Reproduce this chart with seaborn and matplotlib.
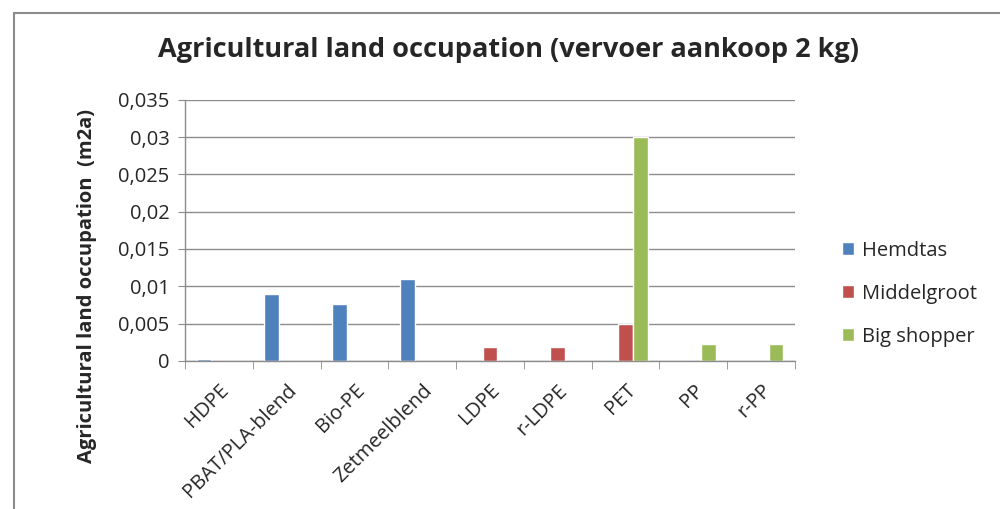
import pandas as pd
import matplotlib.pyplot as plt
import seaborn as sns
from matplotlib.patches import Rectangle
from matplotlib.ticker import FuncFormatter, FixedLocator

categories = ['HDPE', 'PBAT/PLA-blend', 'Bio-PE', 'Zetmeelblend', 'LDPE',
              'r-LDPE', 'PET', 'PP', 'r-PP']
series = ['Hemdtas', 'Middelgroot', 'Big shopper']
hemdtas = [0.0003, 0.0089, 0.0076, 0.011, None, None, None, None, None]
middelgroot = [None, None, None, None, 0.0019, 0.0019, 0.005, None, None]
big_shopper = [None, None, None, None, None, None, 0.030, 0.0023, 0.0023]
colors = ['#4F81BD', '#C0504D', '#9BBB59']

rows = []
for name, vals in zip(series, [hemdtas, middelgroot, big_shopper]):
    for cat, v in zip(categories, vals):
        rows.append({'cat': cat, 'serie': name, 'val': v})
df = pd.DataFrame(rows)

sns.set_style("white")
plt.rcParams['font.family'] = ['Open Sans', 'DejaVu Sans']

fig = plt.figure(figsize=(10, 5.09), dpi=100)
ax = fig.add_axes([0.185, 0.291, 0.61, 0.513])

sns.barplot(data=df, x='cat', y='val', hue='serie', order=categories,
            hue_order=series, palette=colors, width=0.66, ax=ax,
            saturation=1, errorbar=None, legend=True)

ax.set_ylim(0, 0.035)
ax.set_xlim(-0.5, len(categories) - 0.5)
ax.set_yticks([i * 0.005 for i in range(8)])
ax.yaxis.set_major_formatter(FuncFormatter(
    lambda v, p: '0' if v == 0 else f'{v:.3f}'.rstrip('0').replace('.', ',')))
ax.yaxis.grid(True, color='#8c8c8c', linewidth=1)
ax.set_axisbelow(True)
for s in ['top', 'right']:
    ax.spines[s].set_visible(False)
for s in ['left', 'bottom']:
    ax.spines[s].set_color('#8c8c8c')
    ax.spines[s].set_linewidth(1)

ax.tick_params(axis='y', which='major', left=True, length=5, color='#8c8c8c',
               labelsize=14.5, pad=6)
ax.set_xticks(range(len(categories)))
ax.set_xticklabels(categories, rotation=45, ha='right', rotation_mode='anchor',
                   fontsize=14.5)
ax.tick_params(axis='x', which='major', length=0, pad=14)
ax.xaxis.set_minor_locator(FixedLocator([i - 0.5 for i in range(len(categories) + 1)]))
ax.tick_params(axis='x', which='minor', bottom=True, length=6, color='#8c8c8c')

ax.set_xlabel('')
ax.set_ylabel('Agricultural land occupation  (m2a)', fontsize=14.5,
              fontweight='bold')
ax.yaxis.set_label_coords(-0.144, 0.287)

fig.suptitle('Agricultural land occupation (vervoer aankoop 2 kg)', x=0.508,
             y=0.927, fontsize=19.5, fontweight='bold')

leg = ax.legend(loc='center left', bbox_to_anchor=(1.047, 0.257), frameon=False,
                fontsize=14.5, labelspacing=1.15, handlelength=0.6,
                handleheight=0.6, handletextpad=0.4)

fig.patches.append(Rectangle((0.014, -0.1), 1.1, 1.074, transform=fig.transFigure,
                             fill=False, edgecolor='#8c8c8c', linewidth=1.5))

plt.savefig('out.png', dpi=100)
